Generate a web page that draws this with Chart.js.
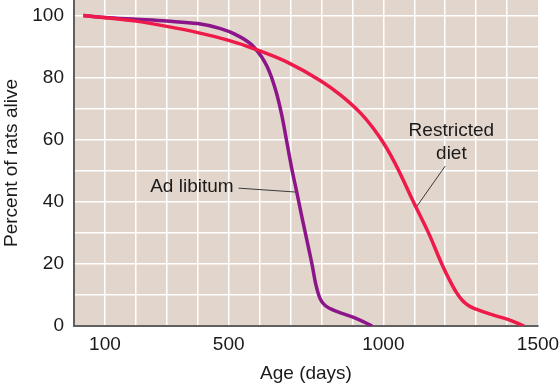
<!DOCTYPE html>
<html>
<head>
<meta charset="utf-8">
<script src="https://cdn.jsdelivr.net/npm/chart.js@4/dist/chart.umd.min.js"></script>
<style>
  html, body { margin: 0; padding: 0; background: #fff; }
  #wrap { width: 560px; height: 387px; }
</style>
</head>
<body>
<div id="wrap"><canvas id="chart" width="560" height="387"></canvas></div>
<script>
// survival curves (age in days, % alive)
const adLibDays = [30, 100, 200, 300, 400, 474, 520, 582, 625, 652, 673, 689, 705, 721, 737, 753, 770, 781, 791, 800, 812, 830, 851, 904, 964];
const adLibPct  = [100, 99.4, 98.8, 98.2, 97.4, 95.8, 94, 89.8, 83.4, 75.9, 67.3, 58.7, 50.2, 42.7, 35, 27.6, 19.6, 13.7, 10, 8, 6.6, 5.5, 4.6, 2.8, 0];

const restrictedDays = [30, 100, 200, 300, 400, 500, 582, 689, 797, 860, 928, 965, 1000, 1025, 1050, 1097, 1146, 1189, 1215, 1235, 1255, 1275, 1300, 1356, 1400, 1455];
const restrictedPct  = [100, 99.3, 98.2, 96.5, 94.5, 92, 89.3, 85, 79, 74.5, 68.4, 64, 59, 54.8, 50, 40, 30, 20, 14.6, 11, 8.3, 6.6, 5.4, 3.5, 2.2, 0];

const xLabelTicks = [100, 500, 1000, 1500];
const yLabelTicks = [0, 20, 40, 60, 80, 100];

// callout labels and leader lines, in data units
const adLibNote = { lines: ['Ad libitum'], day: 516, pct: 45, align: 'right' };
const restrictedNote = { lines: ['Restricted', 'diet'], day: 1220, pct: 63, align: 'center' };
const adLibLeader = [[532, 44.4], [723, 43.1]];
const restrictedLeader = [[1200, 51.5], [1108, 38.5]];

const FONT = 'Liberation Sans, Arial, Helvetica, sans-serif';

function toPoints(xs, ys) {
  return xs.map((x, i) => ({ x, y: ys[i] }));
}

const plotBackground = {
  id: 'plotBackground',
  beforeDraw(chart) {
    const { ctx, chartArea: a } = chart;
    ctx.save();
    ctx.fillStyle = '#e2d5cb';
    ctx.fillRect(a.left, a.top, a.right - a.left, a.bottom - a.top);
    ctx.restore();
  },
};

const notes = {
  id: 'notes',
  afterDatasetsDraw(chart) {
    const { ctx, scales } = chart;
    ctx.save();
    ctx.fillStyle = '#1a1a1a';
    ctx.font = '19px ' + FONT;
    ctx.textBaseline = 'middle';
    [adLibNote, restrictedNote].forEach((n) => {
      const x = scales.x.getPixelForValue(n.day);
      const y = scales.y.getPixelForValue(n.pct);
      ctx.textAlign = n.align;
      n.lines.forEach((line, i) => ctx.fillText(line, x, y + i * 23));
    });
    ctx.restore();
  },
};

function leaderDataset(pts) {
  return {
    data: pts.map(([x, y]) => ({ x, y })),
    borderColor: '#3a3a3a',
    borderWidth: 1,
    pointRadius: 0,
    fill: false,
  };
}

new Chart(document.getElementById('chart'), {
  type: 'line',
  data: {
    datasets: [
      {
        label: 'Restricted diet',
        data: toPoints(restrictedDays, restrictedPct),
        borderColor: '#ee1a4a',
        borderWidth: 3.5,
        pointRadius: 0,
        cubicInterpolationMode: 'monotone',
        fill: false,
      },
      {
        label: 'Ad libitum',
        data: toPoints(adLibDays, adLibPct),
        borderColor: '#8c1689',
        borderWidth: 3.5,
        pointRadius: 0,
        cubicInterpolationMode: 'monotone',
        fill: false,
      },
      leaderDataset(adLibLeader),
      leaderDataset(restrictedLeader),
    ],
  },
  options: {
    responsive: false,
    animation: false,
    layout: { padding: { top: 0, right: 22, left: 0, bottom: 0 } },
    plugins: { legend: { display: false }, tooltip: { enabled: false } },
    scales: {
      x: {
        type: 'linear',
        min: 0,
        max: 1500,
        afterBuildTicks(axis) {
          const t = [];
          for (let v = 0; v <= 1500; v += 100) t.push({ value: v });
          axis.ticks = t;
        },
        afterFit(axis) {
          axis.height = 61;
          axis.paddingLeft = 0;
          axis.paddingRight = 0;
        },
        grid: {
          color: (c) => (c.tick && c.tick.value === 1500 ? 'rgba(0,0,0,0)' : '#ffffff'),
          lineWidth: 1.5,
          drawTicks: false,
        },
        border: { display: true, color: '#606060', width: 2 },
        ticks: {
          padding: 7,
          color: '#1a1a1a',
          font: { family: FONT, size: 19 },
          maxRotation: 0,
          autoSkip: false,
          callback: (v) => (xLabelTicks.includes(v) ? String(v) : ''),
        },
        title: {
          display: true,
          text: 'Age (days)',
          color: '#1a1a1a',
          font: { family: FONT, size: 19 },
          padding: { top: 0, bottom: 2 },
        },
      },
      y: {
        min: 0,
        max: 105,
        afterBuildTicks(axis) {
          const t = [];
          for (let v = 0; v <= 100; v += 10) t.push({ value: v });
          axis.ticks = t;
        },
        afterFit(axis) {
          axis.width = 74;
          axis.paddingTop = 0;
          axis.paddingBottom = 0;
        },
        grid: { color: '#ffffff', lineWidth: 1.5, drawTicks: false },
        border: { display: true, color: '#606060', width: 2 },
        ticks: {
          padding: 10,
          color: '#1a1a1a',
          font: { family: FONT, size: 19 },
          autoSkip: false,
          callback: (v) => (yLabelTicks.includes(v) ? String(v) : ''),
        },
        title: {
          display: true,
          text: 'Percent of rats alive',
          color: '#1a1a1a',
          font: { family: FONT, size: 19 },
          padding: { top: 0, bottom: 0 },
        },
      },
    },
  },
  plugins: [plotBackground, notes],
});
</script>
</body>
</html>
